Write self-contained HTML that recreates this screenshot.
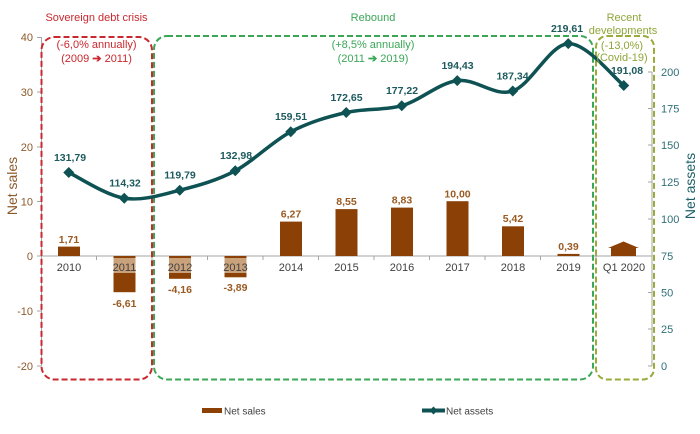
<!DOCTYPE html>
<html><head><meta charset="utf-8"><style>
html,body{margin:0;padding:0;background:#fff;}
svg{display:block;font-family:"Liberation Sans",sans-serif;}
</style></head><body>
<svg width="700" height="434" viewBox="0 0 700 434" xmlns="http://www.w3.org/2000/svg">
<rect width="700" height="434" fill="#fff"/>
<!-- axes -->
<g stroke="#a6a6a6" stroke-width="1" fill="none">
<line x1="41.5" y1="37" x2="41.5" y2="366"/>
<line x1="37" y1="37.5" x2="41.5" y2="37.5"/>
<line x1="37" y1="92" x2="41.5" y2="92"/>
<line x1="37" y1="147" x2="41.5" y2="147"/>
<line x1="37" y1="201.5" x2="41.5" y2="201.5"/>
<line x1="37" y1="256" x2="41.5" y2="256"/>
<line x1="37" y1="311" x2="41.5" y2="311"/>
<line x1="37" y1="366" x2="41.5" y2="366"/>
<line x1="652" y1="72" x2="652" y2="366"/>
<line x1="648" y1="72" x2="652" y2="72"/>
<line x1="648" y1="108.5" x2="652" y2="108.5"/>
<line x1="648" y1="145" x2="652" y2="145"/>
<line x1="648" y1="182" x2="652" y2="182"/>
<line x1="648" y1="219" x2="652" y2="219"/>
<line x1="648" y1="256" x2="652" y2="256"/>
<line x1="648" y1="292.5" x2="652" y2="292.5"/>
<line x1="648" y1="329" x2="652" y2="329"/>
<line x1="648" y1="366" x2="652" y2="366"/>
<line x1="41" y1="256" x2="652" y2="256"/>
<line x1="96.5" y1="256" x2="96.5" y2="260"/>
<line x1="152" y1="256" x2="152" y2="260"/>
<line x1="207.5" y1="256" x2="207.5" y2="260"/>
<line x1="263" y1="256" x2="263" y2="260"/>
<line x1="318.5" y1="256" x2="318.5" y2="260"/>
<line x1="374" y1="256" x2="374" y2="260"/>
<line x1="429.5" y1="256" x2="429.5" y2="260"/>
<line x1="485" y1="256" x2="485" y2="260"/>
<line x1="540.5" y1="256" x2="540.5" y2="260"/>
<line x1="596" y1="256" x2="596" y2="260"/>
</g>
<!-- left tick labels -->
<g font-size="11" fill="#8c5a2b" text-anchor="end">
<text x="33" y="41">40</text>
<text x="33" y="96">30</text>
<text x="33" y="151">20</text>
<text x="33" y="205.5">10</text>
<text x="33" y="260">0</text>
<text x="33" y="315">-10</text>
<text x="33" y="370">-20</text>
</g>
<!-- right tick labels -->
<g font-size="11" fill="#2f6f77">
<text x="661" y="76">200</text>
<text x="661" y="112.5">175</text>
<text x="661" y="149">150</text>
<text x="661" y="186">125</text>
<text x="661" y="223">100</text>
<text x="661" y="260">75</text>
<text x="661" y="296.5">50</text>
<text x="661" y="333">25</text>
<text x="661" y="370">0</text>
</g>
<!-- axis titles -->
<text transform="translate(17,186) rotate(-90)" text-anchor="middle" font-size="14" fill="#8c5a2b">Net sales</text>
<text transform="translate(695,186) rotate(-90)" text-anchor="middle" font-size="14" fill="#1d6068">Net assets</text>
<!-- bars -->
<g fill="#8b4106">
<rect x="58" y="246.6" width="22" height="9.4"/>
<rect x="113.5" y="256" width="22" height="36.2"/>
<rect x="169" y="256" width="22" height="22.8"/>
<rect x="224.5" y="256" width="22" height="21.3"/>
<rect x="280" y="221.6" width="22" height="34.4"/>
<rect x="335.5" y="209.1" width="22" height="46.9"/>
<rect x="391" y="207.6" width="22" height="48.4"/>
<rect x="446.5" y="201.2" width="22" height="54.8"/>
<rect x="502" y="226.3" width="22" height="29.7"/>
<rect x="557.5" y="253.9" width="22" height="2.1"/>
<polygon points="611,256 636,256 636,248 639,248 623.5,241.5 608,248 611,248"/>
</g>
<!-- label bands on negative bars -->
<g fill="#c9a27c">
<rect x="113.5" y="258" width="22" height="15"/>
<rect x="169" y="258" width="22" height="15"/>
<rect x="224.5" y="258" width="22" height="15"/>
</g>
<!-- category labels -->
<g font-size="11" fill="#404040" text-anchor="middle">
<text x="69" y="271">2010</text>
<text x="124.5" y="271">2011</text>
<text x="180" y="271">2012</text>
<text x="235.5" y="271">2013</text>
<text x="291" y="271">2014</text>
<text x="346.5" y="271">2015</text>
<text x="402" y="271">2016</text>
<text x="457.5" y="271">2017</text>
<text x="513" y="271">2018</text>
<text x="568.5" y="271">2019</text>
<text x="624" y="271">Q1 2020</text>
</g>
<!-- bar labels -->
<g font-size="10.5" font-weight="bold" fill="#9a5a22" text-anchor="middle">
<text x="69" y="243">1,71</text>
<text x="124.5" y="307">-6,61</text>
<text x="180" y="293">-4,16</text>
<text x="235.5" y="291">-3,89</text>
<text x="291" y="217.5">6,27</text>
<text x="346.5" y="205">8,55</text>
<text x="402" y="203.5">8,83</text>
<text x="457.5" y="197.5">10,00</text>
<text x="513" y="222">5,42</text>
<text x="568.5" y="250">0,39</text>
</g>
<!-- dashed boxes -->
<rect x="41.5" y="37" width="110.5" height="342.5" rx="13" ry="13" fill="none" stroke="#c8282e" stroke-width="2" stroke-dasharray="6,3"/>
<rect x="154" y="36" width="439" height="343.5" rx="13" ry="13" fill="none" stroke="#3aa757" stroke-width="2" stroke-dasharray="6,3"/>
<rect x="596" y="36" width="58" height="343.5" rx="11" ry="11" fill="none" stroke="#9aab3a" stroke-width="2" stroke-dasharray="6,3"/>
<!-- line -->
<path d="M68.75,172.5 C78,176.78 105.75,195.25 124.25,198.2 C142.75,201.15 161.25,194.77 179.75,190.2 C198.25,185.63 216.75,180.53 235.25,170.8 C253.75,161.07 272.25,141.52 290.75,131.8 C309.25,122.08 327.75,116.83 346.25,112.5 C364.75,108.17 383.25,110.5 401.75,105.8 C420.25,100.48 438.75,83.07 457.25,80.6 C475.75,78.13 494.25,97.17 512.75,91 C531.25,84.83 549.75,44.52 568.25,43.6 C586.75,42.68 614.5,78.52 623.75,85.5" fill="none" stroke="#0e5253" stroke-width="3.5" stroke-linecap="round"/>
<g fill="#0e5253">
<polygon points="68.75,167 74.25,172.5 68.75,178 63.25,172.5"/>
<polygon points="124.25,192.7 129.75,198.2 124.25,203.7 118.75,198.2"/>
<polygon points="179.75,184.7 185.25,190.2 179.75,195.7 174.25,190.2"/>
<polygon points="235.25,165.3 240.75,170.8 235.25,176.3 229.75,170.8"/>
<polygon points="290.75,126.3 296.25,131.8 290.75,137.3 285.25,131.8"/>
<polygon points="346.25,107 351.75,112.5 346.25,118 340.75,112.5"/>
<polygon points="401.75,100.3 407.25,105.8 401.75,111.3 396.25,105.8"/>
<polygon points="457.25,75.1 462.75,80.6 457.25,86.1 451.75,80.6"/>
<polygon points="512.75,85.5 518.25,91 512.75,96.5 507.25,91"/>
<polygon points="568.25,38.1 573.75,43.6 568.25,49.1 562.75,43.6"/>
<polygon points="623.75,80 629.25,85.5 623.75,91 618.25,85.5"/>
</g>
<!-- line labels -->
<g font-size="10.5" font-weight="bold" fill="#1d5a5e" text-anchor="middle">
<text x="70" y="161">131,79</text>
<text x="125" y="186.5">114,32</text>
<text x="180" y="178.5">119,79</text>
<text x="236" y="159">132,98</text>
<text x="291" y="120">159,51</text>
<text x="346.5" y="101">172,65</text>
<text x="402" y="94">177,22</text>
<text x="457.5" y="69">194,43</text>
<text x="512.5" y="79.5">187,34</text>
<text x="567" y="32">219,61</text>
<text x="627" y="74">191,08</text>
</g>
<!-- section titles -->
<g font-size="11" text-anchor="middle">
<text x="96.5" y="21" fill="#c8282e">Sovereign debt crisis</text>
<text x="96.5" y="48" fill="#c8282e">(-6,0% annually)</text>
<text x="96.5" y="62" fill="#c8282e">(2009 <tspan font-weight="bold">➔</tspan> 2011)</text>
<text x="373" y="21" fill="#3aa757">Rebound</text>
<text x="373" y="48" fill="#3aa757">(+8,5% annually)</text>
<text x="373" y="62" fill="#3aa757">(2011 <tspan font-weight="bold">➔</tspan> 2019)</text>
<text x="624" y="21" fill="#8ea63a">Recent</text>
<text x="623" y="34" fill="#8ea63a">developments</text>
<text x="622" y="49" fill="#8ea63a">(-13,0%)</text>
<text x="622" y="61" fill="#8ea63a">(Covid-19)</text>
</g>
<!-- legend -->
<rect x="202" y="408" width="20" height="5" fill="#8b4106"/>
<text x="224" y="414.5" font-size="10" fill="#404040">Net sales</text>
<line x1="422" y1="410.5" x2="445" y2="410.5" stroke="#0e5253" stroke-width="4"/>
<polygon points="433.5,406.5 437.5,410.5 433.5,414.5 429.5,410.5" fill="#0e5253"/>
<text x="446" y="414.5" font-size="10" fill="#404040">Net assets</text>
</svg>
</body></html>
